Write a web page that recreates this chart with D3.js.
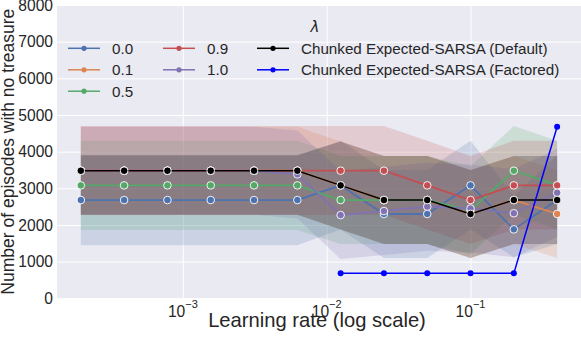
<!DOCTYPE html>
<html>
<head>
<meta charset="utf-8">
<script src="https://cdn.jsdelivr.net/npm/d3@7"></script>
<style>
  body { margin: 0; background: #fff; }
  text { font-family: "Liberation Sans", Arial, sans-serif; fill: #262626; }
</style>
</head>
<body>
<svg id="chart" width="581" height="344"></svg>
<script>
// learning rates (x), halving from 0.4
const learningRates = [0.0001953125, 0.000390625, 0.00078125, 0.0015625, 0.003125, 0.00625,
  0.0125, 0.025, 0.05, 0.1, 0.2, 0.4];
const yTicks = [0, 1000, 2000, 3000, 4000, 5000, 6000, 7000, 8000];
const xTicks = [1e-3, 1e-2, 1e-1];
const xTickExponents = ["\u22123", "\u22122", "\u22121"];

// lambda = 0.0
const lam00Mean = [2680, 2680, 2680, 2680, 2680, 2680, 3080, 2300, 2300, 3080, 1880, 2680];
const lam00Low = [1450, 1450, 1450, 1450, 1450, 1450, 1880, 1100, 1100, 1880, 1120, 1480];
const lam00High = [3900, 3900, 3900, 3900, 3900, 3900, 4300, 3500, 3500, 4300, 2800, 3900];
// lambda = 0.1
const lam01Mean = [3480, 3480, 3480, 3480, 3480, 3480, 3080, 2680, 2680, 2300, 2680, 2300];
const lam01Low = [2280, 2280, 2280, 2280, 2280, 2280, 1880, 1480, 1480, 1100, 1480, 1100];
const lam01High = [4680, 4680, 4680, 4680, 4680, 4680, 4280, 3880, 3880, 3500, 3880, 3500];
// lambda = 0.5
const lam05Mean = [3080, 3080, 3080, 3080, 3080, 3080, 2680, 2680, 2680, 2400, 3480, 3080];
const lam05Low = [1860, 1860, 1860, 1860, 1860, 1860, 1480, 1480, 1480, 1200, 2280, 1880];
const lam05High = [4300, 4300, 4300, 4300, 4300, 4300, 3880, 3880, 3880, 3600, 4700, 4300];
// lambda = 0.9
const lam09Mean = [3480, 3480, 3480, 3480, 3480, 3480, 3480, 3480, 3080, 2680, 3080, 3080];
const lam09Low = [2270, 2270, 2270, 2270, 2270, 2270, 2280, 2280, 1880, 1480, 1880, 1880];
const lam09High = [4700, 4700, 4700, 4700, 4700, 4700, 4700, 4700, 4300, 3880, 4300, 4300];
// lambda = 1.0
const lam10Mean = [3480, 3480, 3480, 3480, 3480, 3380, 2270, 2380, 2500, 2450, 2320, 2880];
const lam10Low = [2280, 2280, 2280, 2280, 2280, 2180, 1070, 1180, 1300, 1250, 1120, 1680];
const lam10High = [4680, 4680, 4680, 4680, 4680, 4580, 3470, 3580, 3700, 3650, 3520, 4080];

// Chunked Expected-SARSA
const defaultValues = [3480, 3480, 3480, 3480, 3480, 3480, 3080, 2680, 2680, 2300, 2680, 2680];
const defaultLow = [2280, 2280, 2280, 2280, 2280, 2280, 1880, 1480, 1480, 1100, 1480, 1480];
const defaultHigh = [3900, 3900, 3900, 3900, 3900, 3900, 4280, 3880, 3880, 3500, 3880, 3880];
const factoredRates = [0.0125, 0.025, 0.05, 0.1, 0.2, 0.4];
const factoredValues = [680, 680, 680, 680, 680, 4680];

const lambdaSeries = [
  { label: "0.0", color: "#4c72b0", mean: lam00Mean, low: lam00Low, high: lam00High },
  { label: "0.1", color: "#dd8452", mean: lam01Mean, low: lam01Low, high: lam01High },
  { label: "0.5", color: "#55a868", mean: lam05Mean, low: lam05Low, high: lam05High },
  { label: "0.9", color: "#c44e52", mean: lam09Mean, low: lam09Low, high: lam09High },
  { label: "1.0", color: "#8172b3", mean: lam10Mean, low: lam10Low, high: lam10High },
];
const bandSeries = lambdaSeries.concat([
  { label: "Default", color: "#000000", mean: defaultValues, low: defaultLow, high: defaultHigh },
]);

const plot = { left: 57, right: 581, top: 5, bottom: 298.3 };
const svg = d3.select("#chart");

const x = d3.scaleLog()
  .domain([Math.pow(10, -3.875), Math.pow(10, -0.232)])
  .range([plot.left, plot.right]);
const y = d3.scaleLinear().domain([0, 8000]).range([plot.bottom, plot.top]);

svg.append("rect")
  .attr("x", plot.left).attr("y", plot.top)
  .attr("width", plot.right - plot.left).attr("height", plot.bottom - plot.top)
  .attr("fill", "#eaeaf2");

// grid
svg.append("g")
  .attr("transform", `translate(0,${plot.bottom})`)
  .call(d3.axisBottom(x).tickValues(xTicks).tickSize(-(plot.bottom - plot.top)).tickFormat(""))
  .call((g) => g.select(".domain").remove())
  .selectAll("line").attr("stroke", "#fff").attr("stroke-width", 1);
svg.append("g")
  .attr("transform", `translate(${plot.left},0)`)
  .call(d3.axisLeft(y).tickValues(yTicks).tickSize(-(plot.right - plot.left)).tickFormat(""))
  .call((g) => g.select(".domain").remove())
  .selectAll("line").attr("stroke", "#fff").attr("stroke-width", 1);

// y tick labels
svg.append("g").selectAll("text")
  .data(yTicks).enter().append("text")
  .attr("x", 53).attr("y", (d) => y(d)).attr("dy", "0.36em")
  .attr("text-anchor", "end").style("font-size", "15.6px")
  .text((d) => d);

// x tick labels 10^n
const xl = svg.append("g").selectAll("text")
  .data(xTicks).enter().append("text")
  .attr("x", (d) => x(d)).attr("y", 317)
  .attr("text-anchor", "middle").style("font-size", "15.6px");
xl.append("tspan").text("10");
xl.append("tspan").attr("dy", -9).style("font-size", "11px").text((d, i) => xTickExponents[i]);

// axis labels
svg.append("text")
  .attr("x", 317).attr("y", 327)
  .attr("text-anchor", "middle").style("font-size", "20.2px")
  .text("Learning rate (log scale)");
svg.append("text")
  .attr("transform", `translate(14,${(plot.top + plot.bottom) / 2}) rotate(-90)`)
  .attr("text-anchor", "middle").style("font-size", "17.5px")
  .text("Number of episodes with no treasure");

const chart = svg.append("g");
chart.append("clipPath").attr("id", "clip")
  .append("rect").attr("x", plot.left).attr("y", plot.top)
  .attr("width", plot.right - plot.left).attr("height", plot.bottom - plot.top);
chart.attr("clip-path", "url(#clip)");

// confidence bands (under all lines)
const band = (s) => d3.area()
  .x((d, i) => x(learningRates[i]))
  .y0((d, i) => y(s.low[i]))
  .y1((d, i) => y(s.high[i]));
bandSeries.forEach((s) => {
  chart.append("path").datum(s.mean)
    .attr("fill", s.color).attr("fill-opacity", 0.2)
    .attr("d", band(s));
});

const line = d3.line().x((d) => x(d[0])).y((d) => y(d[1]));
const drawSeries = (rates, vals, color, width, r, edge) => {
  const pts = rates.map((r0, i) => [r0, vals[i]]);
  chart.append("path").datum(pts)
    .attr("fill", "none").attr("stroke", color).attr("stroke-width", width)
    .attr("stroke-linejoin", "round")
    .attr("d", line);
  chart.append("g").selectAll("circle")
    .data(pts).enter().append("circle")
    .attr("cx", (d) => x(d[0])).attr("cy", (d) => y(d[1]))
    .attr("r", r).attr("fill", color)
    .attr("stroke", edge ? "#fff" : "none").attr("stroke-width", 0.9);
};

lambdaSeries.forEach((s) => drawSeries(learningRates, s.mean, s.color, 1.8, 3.8, true));
drawSeries(learningRates, defaultValues, "#000", 1.5, 3.8, true);
drawSeries(factoredRates, factoredValues, "#0000ff", 1.5, 3, false);

// legend
svg.append("text")
  .attr("x", 315).attr("y", 32)
  .attr("text-anchor", "middle")
  .style("font-family", "DejaVu Sans").style("font-style", "italic").style("font-size", "15px")
  .text("\u03bb");

const legendItems = [
  { label: "0.0", color: "#4c72b0", col: 0, row: 0 },
  { label: "0.1", color: "#dd8452", col: 0, row: 1 },
  { label: "0.5", color: "#55a868", col: 0, row: 2 },
  { label: "0.9", color: "#c44e52", col: 1, row: 0 },
  { label: "1.0", color: "#8172b3", col: 1, row: 1 },
  { label: "Chunked Expected-SARSA (Default)", color: "#000", col: 2, row: 0 },
  { label: "Chunked Expected-SARSA (Factored)", color: "#0000ff", col: 2, row: 1 },
];
const colX = [68, 163, 257];
const rowY = [48.3, 69.8, 91.2];
const legend = svg.selectAll(".legend")
  .data(legendItems).enter().append("g")
  .attr("class", "legend")
  .attr("transform", (d) => `translate(${colX[d.col]},${rowY[d.row]})`);
legend.append("line")
  .attr("x1", 0).attr("x2", 32)
  .attr("stroke", (d) => d.color).attr("stroke-width", 1.5);
legend.append("circle")
  .attr("cx", 16).attr("r", 2.6).attr("fill", (d) => d.color);
legend.append("text")
  .attr("x", 44).attr("dy", "0.36em")
  .style("font-size", "15.2px")
  .text((d) => d.label);
</script>
</body>
</html>
